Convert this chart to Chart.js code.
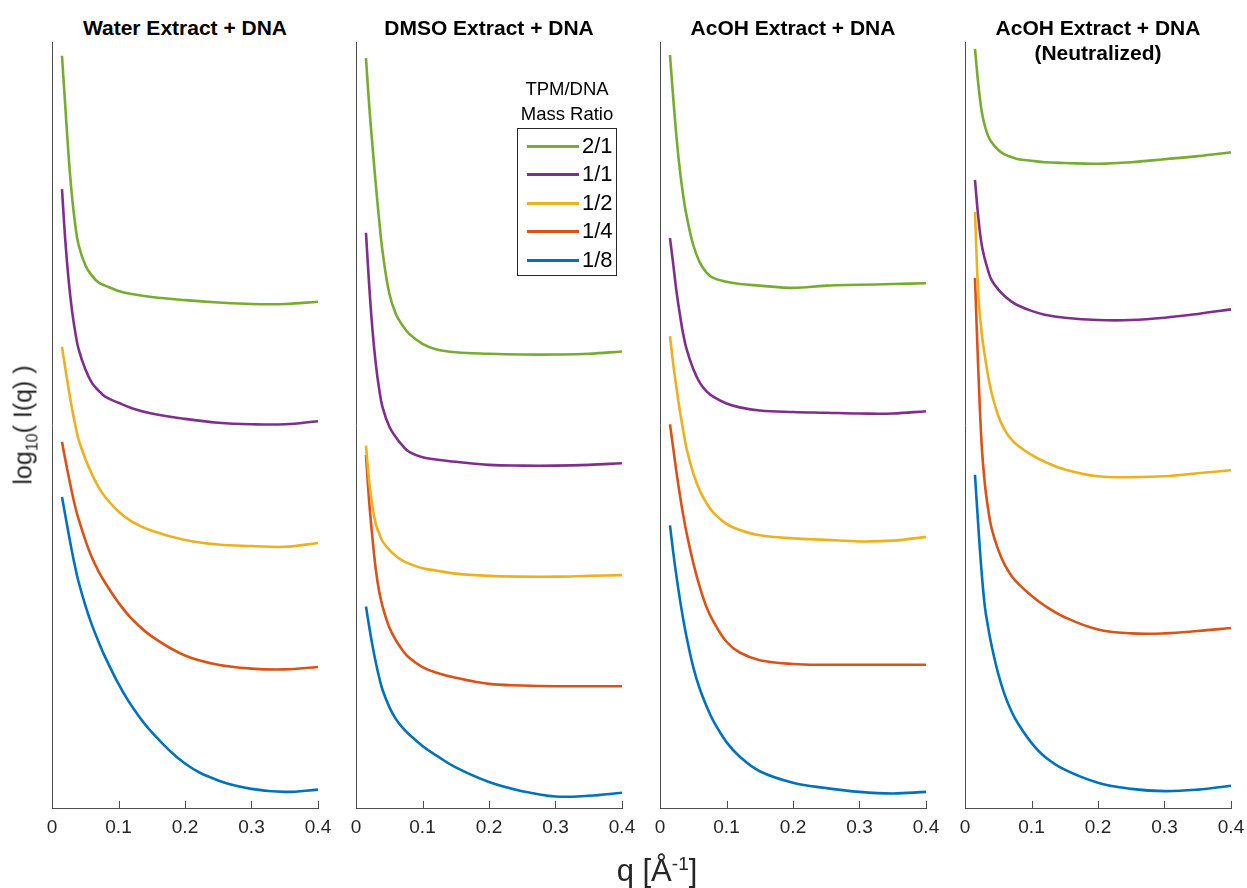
<!DOCTYPE html>
<html>
<head>
<meta charset="utf-8">
<script src="https://cdn.jsdelivr.net/npm/chart.js@4.4.1/dist/chart.umd.min.js"></script>
<style>
  body { margin:0; width:1247px; height:888px; background:#fff; position:relative; overflow:hidden;
         font-family:"Liberation Sans", Arial, Helvetica, sans-serif; }
  canvas { position:absolute; }
  .ttl { position:absolute; width:300px; font-weight:bold; font-size:21px; line-height:25px; text-align:center; color:#000; }
  #ylab { position:absolute; left:25px; top:425px; font-size:25px; color:#262626; white-space:nowrap;
          transform:translate(-50%,-50%) rotate(-90deg); }
  #ylab sub { font-size:16px; }
  #xlab { position:absolute; left:657px; top:871px; font-size:31px; color:#262626; white-space:nowrap;
          transform:translate(-50%,-50%); }
  #xlab sup { font-size:19px; }
  #legTitle { position:absolute; left:507px; top:76px; width:120px; text-align:center; font-size:18.5px; line-height:25px; color:#000; }
  #leg { position:absolute; left:517px; top:128px; width:98px; height:146px; border:1px solid #262626; background:#fff; }
  .row { position:absolute; left:0; height:28px; width:98px; }
  .sw { position:absolute; left:9px; top:13px; width:52px; height:3px; }
  .lb { position:absolute; left:64px; top:2px; font-size:22px; line-height:24px; color:#000; }
</style>
</head>
<body>
<script>
// ---------- data ----------
const q = [0.015, 0.02, 0.025, 0.03, 0.035, 0.04, 0.05, 0.06, 0.07, 0.08, 0.1, 0.12, 0.15, 0.2, 0.25, 0.3, 0.35, 0.4];

const ratios = ["2/1", "1/1", "1/2", "1/4", "1/8"];
const colors = ["#77AC30", "#7E2F8E", "#EDB120", "#D95319", "#0072BD"];
const panelTitles = ["Water Extract + DNA", "DMSO Extract + DNA", "AcOH Extract + DNA", "AcOH Extract + DNA\n(Neutralized)"];
const xTicks = [0, 0.1, 0.2, 0.3, 0.4];

// Water extract
const water_2_1 = [9.82, 9.16, 8.51, 7.99, 7.61, 7.35, 7.09, 6.95, 6.86, 6.82, 6.75, 6.71, 6.67, 6.63, 6.60, 6.58, 6.58, 6.61];
const water_1_1 = [8.08, 7.41, 6.89, 6.50, 6.21, 5.99, 5.73, 5.55, 5.45, 5.37, 5.29, 5.22, 5.15, 5.08, 5.03, 5.01, 5.01, 5.05];
const water_1_2 = [6.02, 5.74, 5.47, 5.22, 5.00, 4.81, 4.56, 4.36, 4.19, 4.06, 3.87, 3.74, 3.62, 3.50, 3.44, 3.42, 3.41, 3.46];
const water_1_4 = [4.78, 4.55, 4.33, 4.12, 3.93, 3.77, 3.50, 3.27, 3.09, 2.94, 2.68, 2.47, 2.24, 1.99, 1.87, 1.82, 1.81, 1.84];
const water_1_8 = [4.06, 3.82, 3.58, 3.35, 3.14, 2.95, 2.65, 2.39, 2.17, 1.97, 1.62, 1.33, 0.99, 0.58, 0.36, 0.25, 0.21, 0.24];

// DMSO extract
const dmso_2_1 = [9.79, 9.15, 8.62, 8.12, 7.66, 7.26, 6.72, 6.45, 6.30, 6.19, 6.06, 5.99, 5.95, 5.93, 5.92, 5.92, 5.93, 5.96];
const dmso_1_1 = [7.51, 6.80, 6.22, 5.78, 5.46, 5.23, 4.98, 4.84, 4.73, 4.65, 4.58, 4.55, 4.52, 4.48, 4.47, 4.47, 4.48, 4.50];
const dmso_1_2 = [4.73, 4.25, 3.92, 3.70, 3.58, 3.48, 3.37, 3.29, 3.23, 3.19, 3.13, 3.10, 3.06, 3.03, 3.02, 3.02, 3.03, 3.04];
const dmso_1_4 = [4.61, 3.98, 3.50, 3.10, 2.82, 2.63, 2.36, 2.19, 2.06, 1.96, 1.84, 1.77, 1.70, 1.62, 1.60, 1.59, 1.59, 1.59];
const dmso_1_8 = [2.63, 2.36, 2.11, 1.89, 1.70, 1.54, 1.32, 1.16, 1.05, 0.96, 0.81, 0.69, 0.53, 0.34, 0.22, 0.15, 0.16, 0.20];

// AcOH extract
const acoh_2_1 = [9.83, 9.26, 8.74, 8.32, 7.99, 7.73, 7.35, 7.12, 6.99, 6.92, 6.87, 6.84, 6.82, 6.79, 6.82, 6.83, 6.84, 6.85];
const acoh_1_1 = [7.44, 7.09, 6.73, 6.44, 6.18, 5.99, 5.73, 5.55, 5.44, 5.37, 5.28, 5.23, 5.19, 5.17, 5.16, 5.15, 5.15, 5.18];
const acoh_1_2 = [6.16, 5.79, 5.47, 5.18, 4.92, 4.69, 4.37, 4.14, 3.98, 3.86, 3.71, 3.63, 3.56, 3.52, 3.50, 3.48, 3.49, 3.54];
const acoh_1_4 = [5.01, 4.69, 4.37, 4.08, 3.82, 3.59, 3.20, 2.88, 2.62, 2.44, 2.17, 2.03, 1.93, 1.88, 1.87, 1.87, 1.87, 1.87];
const acoh_1_8 = [3.69, 3.33, 3.01, 2.72, 2.46, 2.23, 1.84, 1.55, 1.33, 1.14, 0.86, 0.67, 0.48, 0.33, 0.26, 0.21, 0.19, 0.21];

// AcOH extract, neutralized
const neut_2_1 = [9.91, 9.45, 9.10, 8.90, 8.77, 8.69, 8.59, 8.53, 8.50, 8.47, 8.45, 8.43, 8.42, 8.41, 8.43, 8.47, 8.51, 8.56];
const neut_1_1 = [8.20, 7.71, 7.36, 7.16, 7.01, 6.89, 6.77, 6.68, 6.61, 6.56, 6.49, 6.44, 6.40, 6.37, 6.37, 6.40, 6.45, 6.51];
const neut_1_2 = [7.78, 6.71, 6.21, 5.89, 5.63, 5.42, 5.12, 4.93, 4.81, 4.73, 4.61, 4.52, 4.42, 4.33, 4.32, 4.33, 4.37, 4.41];
const neut_1_4 = [6.92, 5.72, 4.75, 4.22, 3.89, 3.65, 3.37, 3.17, 3.03, 2.93, 2.77, 2.64, 2.49, 2.33, 2.28, 2.28, 2.31, 2.35];
const neut_1_8 = [4.35, 3.68, 3.08, 2.62, 2.35, 2.12, 1.75, 1.47, 1.26, 1.10, 0.85, 0.67, 0.50, 0.33, 0.25, 0.22, 0.24, 0.29];

const panelSeries = [
  [water_2_1, water_1_1, water_1_2, water_1_4, water_1_8],
  [dmso_2_1, dmso_1_1, dmso_1_2, dmso_1_4, dmso_1_8],
  [acoh_2_1, acoh_1_1, acoh_1_2, acoh_1_4, acoh_1_8],
  [neut_2_1, neut_1_1, neut_1_2, neut_1_4, neut_1_8]
];

// ---------- layout ----------
const panelLeft = [52, 356, 660, 965];
const plotW = 266, plotTop = 42, plotH = 766;
const padL = 22, padR = 22, xAxisH = 50;
const axisColor = '#4d4d4d';

const innerTicks = {
  id: 'innerTicks',
  afterDraw(chart) {
    const s = chart.scales.x, ctx = chart.ctx, b = chart.chartArea.bottom;
    ctx.save();
    ctx.strokeStyle = axisColor; ctx.lineWidth = 1;
    s.ticks.forEach((t, i) => {
      const x = Math.round(s.getPixelForTick(i)) + 0.5;
      ctx.beginPath(); ctx.moveTo(x, b); ctx.lineTo(x, b - 7); ctx.stroke();
    });
    ctx.restore();
  }
};

panelSeries.forEach((series, p) => {
  const cv = document.createElement('canvas');
  const w = plotW + padL + padR, h = plotH + xAxisH + 2;
  cv.width = w; cv.height = h;
  cv.style.left = (panelLeft[p] - padL) + 'px';
  cv.style.top = (plotTop - 2) + 'px';
  cv.style.width = w + 'px'; cv.style.height = h + 'px';
  document.body.appendChild(cv);

  const datasets = series.map((vals, i) => ({
    label: ratios[i],
    data: q.map((x, k) => ({ x: x, y: vals[k] })),
    borderColor: colors[i],
    backgroundColor: colors[i],
    borderWidth: 2.6,
    pointRadius: 0,
    fill: false,
    tension: 0.4
  }));

  new Chart(cv, {
    type: 'line',
    data: { datasets },
    options: {
      responsive: false,
      animation: false,
      devicePixelRatio: 1,
      layout: { padding: { left: padL, right: padR, top: 2, bottom: 0 } },
      plugins: { legend: { display: false }, tooltip: { enabled: false }, title: { display: false } },
      scales: {
        x: {
          type: 'linear', min: 0, max: 0.4,
          afterBuildTicks: (s) => { s.ticks = xTicks.map(v => ({ value: v })); },
          afterFit: (s) => { s.height = xAxisH; },
          grid: { display: false, drawTicks: false },
          border: { display: true, color: axisColor, width: 1 },
          ticks: {
            padding: 8, color: '#262626', maxRotation: 0, autoSkip: false,
            font: { family: '"Liberation Sans", Arial, sans-serif', size: 19 },
            callback: (v) => String(Math.round(v * 10) / 10)
          }
        },
        y: {
          type: 'linear', min: 0, max: 10,
          afterFit: (s) => { s.width = 0; },
          grid: { display: false, drawTicks: false },
          border: { display: true, color: axisColor, width: 1 },
          ticks: { display: false }
        }
      }
    },
    plugins: [innerTicks]
  });

  const t = document.createElement('div');
  t.className = 'ttl';
  t.style.left = (panelLeft[p] + plotW / 2 - 150) + 'px';
  t.style.top = '15px';
  t.innerHTML = panelTitles[p].replace('\n', '<br>');
  document.body.appendChild(t);
});

// legend
const lt = document.createElement('div');
lt.id = 'legTitle'; lt.innerHTML = 'TPM/DNA<br>Mass Ratio';
document.body.appendChild(lt);
const leg = document.createElement('div');
leg.id = 'leg';
ratios.forEach((r, i) => {
  const row = document.createElement('div');
  row.className = 'row'; row.style.top = (3 + i * 28.4) + 'px';
  row.innerHTML = '<div class="sw" style="background:' + colors[i] + '"></div><div class="lb">' + r + '</div>';
  leg.appendChild(row);
});
document.body.appendChild(leg);

// axis labels
const yl = document.createElement('div');
yl.id = 'ylab'; yl.innerHTML = 'log<sub>10</sub>( I(q) )';
document.body.appendChild(yl);
const xl = document.createElement('div');
xl.id = 'xlab'; xl.innerHTML = 'q [Å<sup>-1</sup>]';
document.body.appendChild(xl);
</script>
</body>
</html>
